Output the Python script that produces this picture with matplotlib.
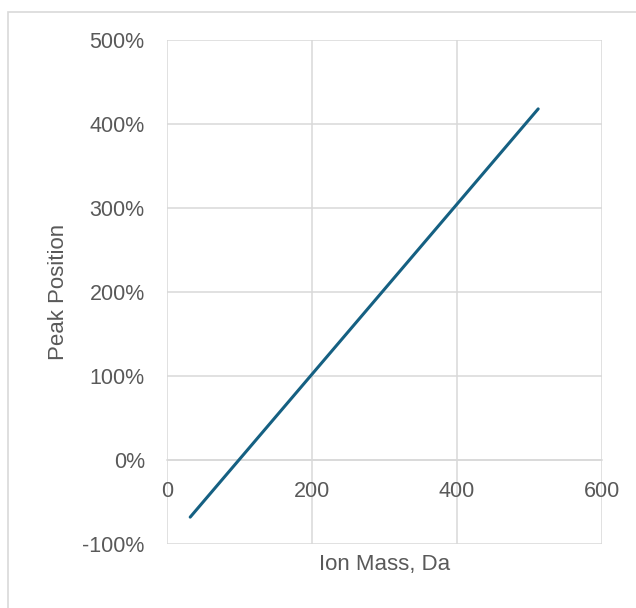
import matplotlib.pyplot as plt
from matplotlib.patches import Rectangle
from matplotlib.ticker import PercentFormatter

# Peak position vs ion mass (linear trend)
ion_mass = [32, 512]
peak_position = [-0.68, 4.18]

x_ticks = [0, 200, 400, 600]
y_ticks = [-1, 0, 1, 2, 3, 4, 5]

text_grey = "#595959"
grid_grey = "#d9d9d9"
line_blue = "#156082"

plt.rcParams["font.family"] = ["Liberation Sans", "DejaVu Sans"]
plt.rcParams["axes.unicode_minus"] = False

fig = plt.figure(figsize=(6.36, 6.08), dpi=100)
ax = fig.add_axes([167 / 636, 1 - 544 / 608, 435 / 636, 504 / 608])

# chart area frame
fig.patches.append(Rectangle((8 / 636, -0.05), 1.2, 1 - 12 / 608 + 0.05,
                             transform=fig.transFigure, fill=False,
                             edgecolor=grid_grey, linewidth=1.2))

ax.plot(ion_mass, peak_position, color=line_blue, linewidth=2.2,
        solid_capstyle="round", zorder=3)

ax.set_xlim(0, 600)
ax.set_ylim(-1, 5)
ax.set_xticks(x_ticks)
ax.set_yticks(y_ticks)
ax.yaxis.set_major_formatter(PercentFormatter(1.0, decimals=0))

ax.grid(True, color=grid_grey, linewidth=1.1)
ax.set_axisbelow(True)
for side in ["top", "right", "left"]:
    ax.spines[side].set_visible(False)
ax.spines["bottom"].set_position(("data", 0))
ax.spines["bottom"].set_color(grid_grey)
ax.spines["bottom"].set_linewidth(1.1)

ax.tick_params(axis="both", length=0, labelsize=15.5, labelcolor=text_grey)
ax.tick_params(axis="x", pad=15)
ax.tick_params(axis="y", pad=16)

ax.set_xlabel("Ion Mass, Da", fontsize=16, color=text_grey)
ax.set_ylabel("Peak Position", fontsize=16, color=text_grey)
ax.xaxis.set_label_coords(0.5, -0.02)
ax.yaxis.set_label_coords(-0.25, 0.5)
ax.xaxis.label.set_va("top")
ax.yaxis.label.set_va("center")

fig.savefig("out.png", dpi=100)
